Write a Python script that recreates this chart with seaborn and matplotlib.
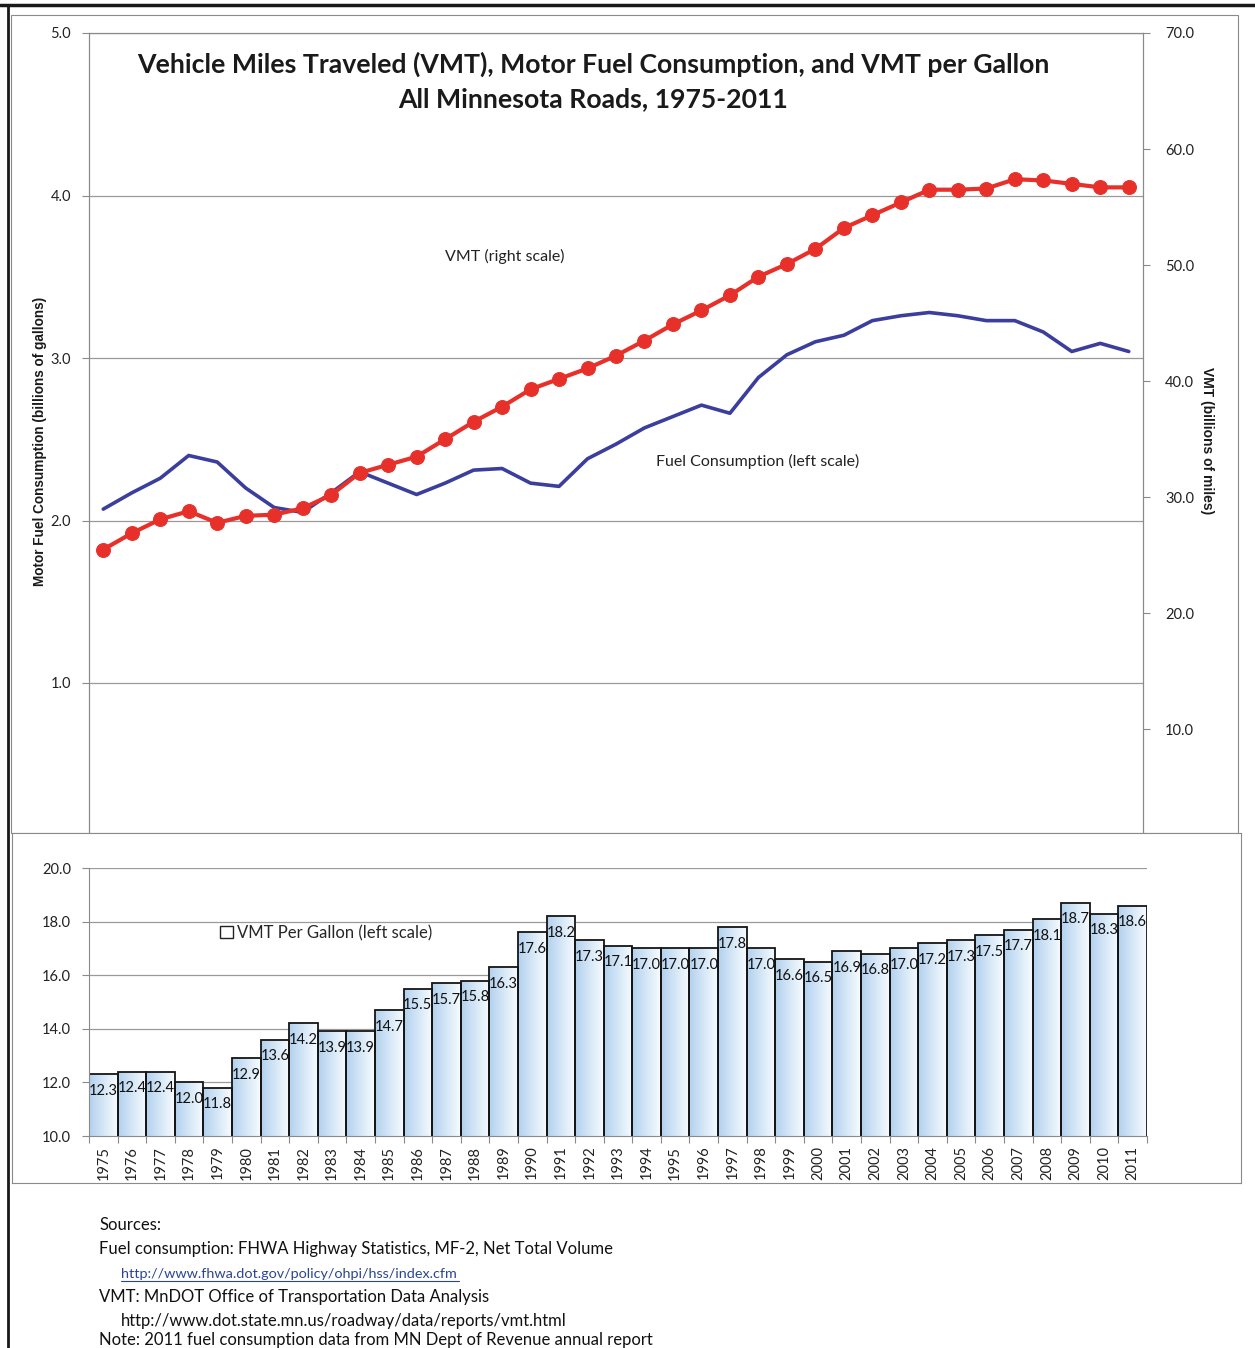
import numpy as np
import pandas as pd
import matplotlib
matplotlib.use("Agg")
import matplotlib.pyplot as plt
import seaborn as sns
from matplotlib.patches import Rectangle, Patch
from matplotlib.lines import Line2D
from matplotlib.colors import LinearSegmentedColormap

# ---------------- data ----------------
years = list(range(1975, 2012))
fuel_bgal = [2.07, 2.17, 2.26, 2.40, 2.36, 2.20, 2.08, 2.05, 2.17, 2.30,
             2.23, 2.16, 2.23, 2.31, 2.32, 2.23, 2.21, 2.38, 2.47, 2.57,
             2.64, 2.71, 2.66, 2.88, 3.02, 3.10, 3.14, 3.23, 3.26, 3.28,
             3.26, 3.23, 3.23, 3.16, 3.04, 3.09, 3.04]
vmt_bmiles = [25.5, 26.9, 28.1, 28.8, 27.8, 28.4, 28.5, 29.05, 30.2, 32.1,
              32.8, 33.5, 35.0, 36.5, 37.8, 39.3, 40.2, 41.1, 42.2, 43.5,
              44.9, 46.1, 47.4, 49.0, 50.1, 51.4, 53.2, 54.3, 55.4, 56.5,
              56.5, 56.6, 57.4, 57.3, 57.0, 56.7, 56.7]
vmt_per_gal = [12.3, 12.4, 12.4, 12.0, 11.8, 12.9, 13.6, 14.2, 13.9, 13.9,
               14.7, 15.5, 15.7, 15.8, 16.3, 17.6, 18.2, 17.3, 17.1, 17.0,
               17.0, 17.0, 17.8, 17.0, 16.6, 16.5, 16.9, 16.8, 17.0, 17.2,
               17.3, 17.5, 17.7, 18.1, 18.7, 18.3, 18.6]
left_ticks = [1.0, 2.0, 3.0, 4.0, 5.0]
right_ticks = [10.0, 20.0, 30.0, 40.0, 50.0, 60.0, 70.0]
bar_ticks = [10.0, 12.0, 14.0, 16.0, 18.0, 20.0]

title1 = "Vehicle Miles Traveled (VMT), Motor Fuel Consumption, and VMT per Gallon"
title2 = "All Minnesota Roads, 1975-2011"
source_lines = [
    ("Sources:", 99, 1225, 12, "#111111"),
    ("Fuel consumption: FHWA Highway Statistics, MF-2, Net Total Volume", 99, 1249, 12, "#111111"),
    ("http://www.fhwa.dot.gov/policy/ohpi/hss/index.cfm", 121, 1274, 10.4, "#2B4592"),
    ("VMT: MnDOT Office of Transportation Data Analysis", 99, 1297, 12, "#111111"),
    ("http://www.dot.state.mn.us/roadway/data/reports/vmt.html", 121, 1321, 12, "#111111"),
    ("Note: 2011 fuel consumption data from MN Dept of Revenue annual report", 99, 1340, 12, "#111111"),
]

df = pd.DataFrame({"year": years, "fuel": fuel_bgal, "vmt": vmt_bmiles, "mpg": vmt_per_gal})

# ---------------- style ----------------
sns.set_style("white")
plt.rcParams["font.family"] = ["Lato", "DejaVu Sans"]
plt.rcParams["axes.axisbelow"] = True

W, H = 1255, 1348
fig = plt.figure(figsize=(W / 100, H / 100), dpi=100)


def fx(px):
    return px / W


def fy(py):
    return 1 - py / H


GRID = "#9a9a9a"
SPINE = "#8a8a8a"
TXT = "#222222"

# outer frame
fig.add_artist(Line2D([0, 1], [fy(5), fy(5)], color="#1a1a1a", lw=2.5))
fig.add_artist(Line2D([fx(8), fx(8)], [fy(5), 0], color="#1a1a1a", lw=2.0))
fig.add_artist(Rectangle((fx(11), fy(833)), fx(1238) - fx(11), fy(15) - fy(833),
                         fill=False, ec=SPINE, lw=0.8))

# ---------------- top panel ----------------
ax = fig.add_axes([fx(89), fy(845.5), fx(1143) - fx(89), fy(33) - fy(845.5)])
sns.lineplot(data=df, x="year", y="fuel", ax=ax, color="#3B3E9C", lw=2.6)
ax.set_xlim(1974.5, 2011.5)
ax.set_ylim(0, 5)
ax.set_yticks(left_ticks)
ax.set_yticklabels([f"{v:.1f}" for v in left_ticks])
ax.set_xticks([])
ax.set_xlabel("")
ax.set_ylabel("")
ax.grid(axis="y", color=GRID, lw=0.9)
ax.tick_params(axis="y", left=True, length=5, width=0.8, color=SPINE,
               labelsize=10.5, labelcolor=TXT, pad=8)
for s in ["left", "right", "top"]:
    ax.spines[s].set_color(SPINE)
    ax.spines[s].set_linewidth(0.8)
ax.spines["bottom"].set_visible(False)

ax2 = ax.twinx()
sns.lineplot(data=df, x="year", y="vmt", ax=ax2, color="#E8302A", lw=3.0,
             marker="o", markersize=10, markeredgecolor="#E8302A")
ax2.set_ylim(0, 70)
ax2.set_yticks(right_ticks)
ax2.set_yticklabels([f"{v:.1f}" for v in right_ticks])
ax2.set_ylabel("")
ax2.tick_params(axis="y", right=True, length=5, width=0.8, color=SPINE,
                labelsize=10.5, labelcolor=TXT, pad=11)
for s in ax2.spines.values():
    s.set_color(SPINE)
    s.set_linewidth(0.8)
ax2.spines["bottom"].set_visible(False)

fig.text(fx(505), fy(256), "VMT (right scale)", ha="center", va="center",
         fontsize=11.5, color=TXT)
fig.text(fx(758), fy(461), "Fuel Consumption (left scale)", ha="center", va="center",
         fontsize=11.5, color=TXT)

fig.text(fx(593), fy(64), title1, ha="center", va="center", fontsize=19.2,
         fontweight="bold", color="#1a1a1a")
fig.text(fx(593), fy(99), title2, ha="center", va="center", fontsize=19.2,
         fontweight="bold", color="#1a1a1a")

fig.text(fx(40), fy(441), "Motor Fuel Consumption (billions of gallons)", rotation=90,
         ha="center", va="center", fontsize=9.8, fontweight="bold",
         family=["Liberation Sans", "DejaVu Sans"], color="#1a1a1a")
fig.text(fx(1207), fy(441), "VMT (billions of miles)", rotation=-90,
         ha="center", va="center", fontsize=10, fontweight="bold",
         family=["Liberation Sans", "DejaVu Sans"], color="#1a1a1a")

# ---------------- bottom panel ----------------
bg = fig.add_axes([fx(12), fy(1183), fx(1241) - fx(12), fy(833) - fy(1183)], zorder=5)
bg.set_xticks([])
bg.set_yticks([])
bg.set_facecolor("white")
for s in bg.spines.values():
    s.set_color(SPINE)
    s.set_linewidth(0.8)

bx = fig.add_axes([fx(89), fy(1136), fx(1147) - fx(89), fy(868) - fy(1136)], zorder=6)
bx.patch.set_alpha(0)
sns.barplot(data=df, x="year", y="mpg", ax=bx, color="#C4DCF2", edgecolor="#151515",
            linewidth=1.3, width=1.0, saturation=1)

YMIN, YMAX = 10, 20
cmap = LinearSegmentedColormap.from_list("g", ["#B2D1EE", "#D5E7F7", "#F7FBFE"])
grad = np.linspace(0, 1, 64).reshape(1, -1)
for p in list(bx.patches):
    x0, w, h = p.get_x(), p.get_width(), p.get_height()
    p.set_facecolor("none")
    p.set_zorder(2)
    im = bx.imshow(grad, extent=[x0, x0 + w, YMIN, h], aspect="auto", cmap=cmap,
                   interpolation="bicubic", zorder=1.5)
    im.set_clip_path(p)

bx.bar_label(bx.containers[0], fmt="%.1f", padding=-17, fontsize=10.5, color="#111111")

bx.set_xlim(-0.5, len(years) - 0.5)
bx.set_ylim(YMIN, YMAX)
bx.set_yticks(bar_ticks)
bx.set_yticklabels([f"{v:.1f}" for v in bar_ticks])
bx.grid(axis="y", color=GRID, lw=0.9)
bx.set_xlabel("")
bx.set_ylabel("")
bx.set_xticks(range(len(years)))
bx.set_xticklabels([str(y) for y in years], rotation=90)
bx.set_xticks(np.arange(-0.5, len(years), 1.0), minor=True)
bx.tick_params(axis="x", which="major", length=0, labelsize=10.5, labelcolor=TXT, pad=7)
bx.tick_params(axis="x", which="minor", bottom=True, length=5, width=0.8, color=SPINE)
bx.tick_params(axis="y", left=True, length=5, width=0.8, color=SPINE,
               labelsize=10.5, labelcolor=TXT, pad=8)
for s in ["left", "bottom"]:
    bx.spines[s].set_color(SPINE)
    bx.spines[s].set_linewidth(0.8)
    bx.spines[s].set_zorder(3)
bx.spines["top"].set_visible(False)
bx.spines["right"].set_visible(False)

bx.legend(handles=[Patch(facecolor="white", edgecolor="#222222", lw=1.0)],
          labels=["VMT Per Gallon (left scale)"], loc="center left",
          bbox_to_anchor=((220 - 89) / 1058, (1136 - 933) / 268), frameon=False,
          handlelength=0.75, handleheight=0.75, handletextpad=0.25, fontsize=12,
          borderaxespad=0, borderpad=0)

# ---------------- sources ----------------
for text, x, y, size, col in source_lines:
    fig.text(fx(x), fy(y), text, ha="left", va="center", fontsize=size, color=col)
fig.add_artist(Line2D([fx(121), fx(459)], [fy(1281), fy(1281)], color="#2B4592", lw=0.8))

fig.savefig("out.png", dpi=100, facecolor="white")
